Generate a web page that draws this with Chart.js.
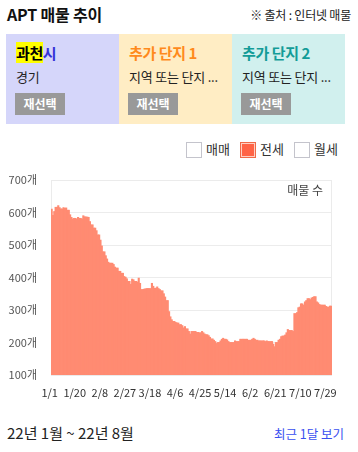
<!DOCTYPE html>
<html><head><meta charset="utf-8">
<script src="https://cdn.jsdelivr.net/npm/chart.js@4/dist/chart.umd.min.js"></script>
<style>
html,body{margin:0;padding:0;background:#fff;}
body{width:358px;height:452px;position:relative;overflow:hidden;font-family:"Noto Sans CJK KR","Noto Sans",sans-serif;color:#222;}
.abs{position:absolute;white-space:nowrap;}
#title{left:7px;top:2px;font-size:16px;font-weight:bold;color:#111;letter-spacing:-0.2px;}
#src{right:7px;top:6px;font-size:12px;color:#222;letter-spacing:-0.2px;}
.panel{position:absolute;top:34px;height:90px;width:113px;}
.pt{position:absolute;left:10px;top:9px;font-size:15px;font-weight:bold;letter-spacing:-0.4px;line-height:20px;}
.ps{position:absolute;left:10px;top:34px;font-size:13px;color:#222;letter-spacing:-0.2px;line-height:18px;}
.btn{position:absolute;left:9px;top:59px;width:50px;height:22px;background:#999;color:#fff;font-weight:bold;font-size:12px;line-height:22px;text-align:center;}
.hl{background:#ffff00;color:#000;}
.lg{position:absolute;top:142px;width:14px;height:14px;border:1px solid #c4c4cc;background:#fff;}
.lt{position:absolute;top:139px;font-size:13px;color:#333;line-height:20px;}
#chartWrap{position:absolute;left:0;top:159px;width:350px;height:251px;}
#c{display:block;}
#cnt{right:35px;top:181px;font-size:12px;color:#444;}
#period{left:7px;top:422px;font-size:15px;color:#222;}
#recent{right:14px;top:424px;font-size:12.5px;color:#3a4ff0;}
</style></head>
<body>
<div id="title" class="abs">APT 매물 추이</div>
<div id="src" class="abs">※ 출처 : 인터넷 매물</div>

<div class="panel" style="left:6px;background:#d5d6fa;">
  <div class="pt"><span class="hl">과천</span><span style="color:#3434d8">시</span></div>
  <div class="ps">경기</div>
  <div class="btn">재선택</div>
</div>
<div class="panel" style="left:119px;background:#ffedc4;">
  <div class="pt" style="color:#ff8a1c">추가 단지 1</div>
  <div class="ps">지역 또는 단지 ...</div>
  <div class="btn">재선택</div>
</div>
<div class="panel" style="left:232px;background:#d1f0ee;">
  <div class="pt" style="color:#139c98">추가 단지 2</div>
  <div class="ps">지역 또는 단지 ...</div>
  <div class="btn">재선택</div>
</div>

<div class="lg" style="left:186px;"></div><div class="lt" style="left:206px;">매매</div>
<div class="lg" style="left:240px;background:#ff6446;border-color:#f06a48;box-shadow:inset 0 0 0 1px #ffd0c4;"></div><div class="lt" style="left:260px;">전세</div>
<div class="lg" style="left:294px;"></div><div class="lt" style="left:314px;">월세</div>

<div id="chartWrap"><canvas id="c" width="350" height="251"></canvas></div>
<div id="cnt" class="abs">매물 수</div>

<div id="period" class="abs">22년 1월 ~ 22년 8월</div>
<div id="recent" class="abs">최근 1달 보기</div>

<script>
// ---- data ----
const startMonth = 1, startDay = 1, dayCount = 213; // 2022-01-01 .. 2022-08-01
const tickLabels = ['1/1','1/20','2/8','2/27','3/18','4/6','4/25','5/14','6/2','6/21','7/10','7/29'];
const jeonseCounts = [
610,591,603,616,616,621,615,611,611,615,613,614,607,607,593,585,580,582,582,580,
585,582,582,580,590,587,586,586,585,572,562,562,552,552,544,531,531,515,497,479,
479,467,457,447,444,444,444,440,432,429,429,419,419,413,413,403,401,396,388,388,
379,395,393,388,388,386,398,382,363,363,364,365,366,366,366,366,382,373,367,367,
371,366,363,359,359,350,340,329,329,295,279,270,265,265,262,260,260,255,255,252,
245,249,242,242,234,226,234,234,234,234,231,231,230,230,234,230,226,224,224,221,
216,211,211,207,203,197,200,200,205,210,213,210,210,208,203,200,200,200,200,205,
203,203,203,210,210,210,210,210,210,207,207,207,210,213,210,207,207,205,205,205,
205,205,203,205,203,203,203,203,195,187,200,200,207,210,218,220,220,223,230,240,
237,237,237,234,289,289,292,307,309,319,319,315,325,329,335,335,332,337,339,341,
341,325,322,317,315,315,315,315,311,309,309,312,312];
const yTicks = [100,200,300,400,500,600,700];

// category labels (dates)
const dayLabels = [];
(function(){
  const d = new Date(2022, startMonth-1, startDay);
  for (let i=0;i<dayCount;i++){
    dayLabels.push((d.getMonth()+1)+'/'+d.getDate());
    d.setDate(d.getDate()+1);
  }
})();

const framePlugin = {
  id:'frame',
  beforeDatasetsDraw(chart){
    const a = chart.chartArea, ctx = chart.ctx;
    ctx.save();
    ctx.strokeStyle = '#ebebeb';
    ctx.lineWidth = 1;
    ctx.strokeRect(Math.round(a.left)+0.5, Math.round(a.top)+0.5, Math.round(a.right-a.left)-1, Math.round(a.bottom-a.top));
    ctx.restore();
  }
};

new Chart(document.getElementById('c'), {
  type:'bar',
  data:{
    labels: dayLabels,
    datasets:[{
      label:'전세',
      data: jeonseCounts,
      backgroundColor:'#ff8b72',
      borderWidth:0,
      barPercentage:1.0,
      categoryPercentage:1.0,
      inflateAmount:0.4
    }]
  },
  options:{
    responsive:false,
    animation:false,
    layout:{padding:{top:21,right:17,left:0,bottom:0}},
    plugins:{legend:{display:false},tooltip:{enabled:false}},
    scales:{
      x:{
        grid:{display:false,drawTicks:false},
        border:{display:false},
        afterFit(s){ s.height = 35; },
        ticks:{
          autoSkip:false, maxRotation:0, minRotation:0, padding:11, labelOffset:-2,
          color:'#333',
          font:{family:'"Noto Sans CJK KR","Noto Sans",sans-serif', size:11},
          callback(v, i){ const l = this.getLabelForValue(v); return tickLabels.includes(l) ? l : null; }
        }
      },
      y:{
        min:100, max:700,
        afterFit(s){ s.width = 51; },
        afterBuildTicks(s){ s.ticks = yTicks.map(v=>({value:v})); },
        grid:{color:'#ececec', drawTicks:false},
        border:{display:false},
        ticks:{
          padding:14, color:'#555',
          font:{family:'"Noto Sans CJK KR","Noto Sans",sans-serif', size:11},
          callback(v){ return v+'개'; }
        }
      }
    }
  },
  plugins:[framePlugin]
});
</script>
</body></html>
